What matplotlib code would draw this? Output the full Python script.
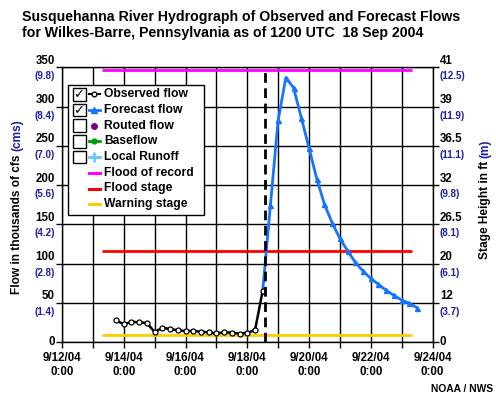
import matplotlib
matplotlib.use("Agg")
import matplotlib.pyplot as plt
import matplotlib.dates as mdates
from matplotlib.transforms import Affine2D, offset_copy
from matplotlib.patches import Rectangle
from matplotlib.lines import Line2D
import pandas as pd

plt.rcParams['font.family'] = ['Liberation Sans', 'DejaVu Sans']
plt.rcParams['font.weight'] = 'bold'

# ---------------- data ----------------
obs_times = ["2004-09-13 18:00", "2004-09-14 00:00", "2004-09-14 06:00", "2004-09-14 12:00",
             "2004-09-14 18:00", "2004-09-15 00:00", "2004-09-15 06:00", "2004-09-15 12:00",
             "2004-09-15 18:00", "2004-09-16 00:00", "2004-09-16 06:00", "2004-09-16 12:00",
             "2004-09-16 18:00", "2004-09-17 00:00", "2004-09-17 06:00", "2004-09-17 12:00",
             "2004-09-17 18:00", "2004-09-18 00:00", "2004-09-18 06:00", "2004-09-18 12:00"]
obs_flow = [27.6, 22.5, 25.8, 25.0, 24.2, 12.7, 18.2, 16.5, 14.9, 14.0,
            14.0, 13.1, 12.3, 11.0, 12.3, 11.9, 10.6, 11.9, 14.9, 65.3]

fc_times = ["2004-09-18 12:00", "2004-09-18 18:00", "2004-09-19 00:00", "2004-09-19 06:00",
            "2004-09-19 12:00", "2004-09-19 18:00", "2004-09-20 00:00", "2004-09-20 06:00",
            "2004-09-20 12:00", "2004-09-20 18:00", "2004-09-21 00:00", "2004-09-21 06:00",
            "2004-09-21 12:00", "2004-09-21 18:00", "2004-09-22 00:00", "2004-09-22 06:00",
            "2004-09-22 12:00", "2004-09-22 18:00", "2004-09-23 00:00", "2004-09-23 06:00",
            "2004-09-23 12:00"]
fc_flow = [65.3, 174.3, 282.4, 336.8, 324.0, 285.9, 247.2, 208.3, 175.5, 151.8, 131.9,
           116.2, 101.4, 90.3, 81.0, 73.4, 65.8, 59.4, 53.4, 49.2, 43.6]

flood_of_record = 347.0
flood_stage = 116.0
warning_stage = 9.3
level_span = ["2004-09-13 07:00", "2004-09-23 08:00"]
issue_time = "2004-09-18 13:30"

flow_ticks = [0, 50, 100, 150, 200, 250, 300, 350]
flow_cms = ["", "(1.4)", "(2.8)", "(4.2)", "(5.6)", "(7.0)", "(8.4)", "(9.8)"]
stage_ft = ["0", "12", "20", "26.5", "32", "36.5", "39", "41"]
stage_m = ["", "(3.7)", "(6.1)", "(8.1)", "(9.8)", "(11.1)", "(11.9)", "(12.5)"]

legend_labels = ["Observed flow", "Forecast flow", "Routed flow", "Baseflow", "Local Runoff",
                 "Flood of record", "Flood stage", "Warning stage"]

x_range = ["2004-09-12 00:00", "2004-09-24 00:00"]

# ---------------- colours ----------------
BLUE_TXT = '#1c1ca8'
C_OBS = 'black'
C_FC = '#1874ff'
C_ROUTED = '#800080'
C_BASE = '#00a000'
C_LOCAL = '#6cc6ff'
C_REC = '#ff00ff'
C_FLOOD = '#ff0000'
C_WARN = '#ffcc00'

W, H = 496, 397
fig = plt.figure(figsize=(W / 100, H / 100), dpi=100)
pix = Affine2D().scale(1 / W, -1 / H).translate(0, 1) + fig.transFigure

L, R, T, B = 62, 432.5, 67.3, 342
ax = fig.add_axes([L / W, 1 - B / H, (R - L) / W, (B - T) / H])

ot = pd.to_datetime(obs_times)
ft = pd.to_datetime(fc_times)
ls = pd.to_datetime(level_span)

ax.hlines([flood_of_record], ls[0], ls[1], colors=C_REC, lw=2, zorder=3)
ax.hlines([flood_stage], ls[0], ls[1], colors=C_FLOOD, lw=2, zorder=3)
ax.hlines([warning_stage], ls[0], ls[1], colors=C_WARN, lw=2, zorder=3)

ax.plot(ft, fc_flow, color=C_FC, lw=2, marker='^', ms=3.6, mfc=C_FC, mec=C_FC, zorder=4)
ax.plot(ot, obs_flow, color=C_OBS, lw=1.8, marker='o', ms=3.6, mfc='white', mec='black',
        mew=0.9, zorder=5)
ax.axvline(pd.Timestamp(issue_time), color='black', lw=2, ls=(0, (3.5, 2)), zorder=6)

xr = pd.to_datetime(x_range)
ax.set_xlim(xr[0], xr[1])
ax.set_ylim(flow_ticks[0], flow_ticks[-1])
ax.set_yticks(flow_ticks)
ax.set_yticklabels([])
ax.xaxis.set_major_locator(mdates.DayLocator())


def fmt(x, pos):
    d = mdates.num2date(x)
    if d.day % 2 == 0:
        return f"{d.month}/{d.day}/{d.strftime('%y')}\n{d.hour}:00"
    return ""


ax.xaxis.set_major_formatter(plt.FuncFormatter(fmt))
ax.tick_params(axis='x', length=4, width=1, pad=3, labelsize=8.3, direction='out')
ax.tick_params(axis='y', length=4, width=1, direction='out', right=True)
plt.setp(ax.get_xticklabels(), fontweight='bold', linespacing=1.25)
ax.grid(True, color='black', lw=1)
for s in ax.spines.values():
    s.set_linewidth(1)
    s.set_color('black')

ytr = ax.get_yaxis_transform()
for v, c, sft, sm in zip(flow_ticks, flow_cms, stage_ft, stage_m):
    if c:
        ax.text(-0.019, v, str(v), transform=offset_copy(ytr, fig=fig, x=0, y=6.5, units='dots'),
                ha='right', va='center', fontsize=8.3, fontweight='bold', color='black')
        ax.text(-0.019, v, c, transform=offset_copy(ytr, fig=fig, x=0, y=-9, units='dots'),
                ha='right', va='center', fontsize=7, fontweight='bold', color=BLUE_TXT)
        ax.text(1.02, v, sft, transform=offset_copy(ytr, fig=fig, x=0, y=6.5, units='dots'),
                ha='left', va='center', fontsize=8.3, fontweight='bold', color='black')
        ax.text(1.02, v, sm, transform=offset_copy(ytr, fig=fig, x=0, y=-9, units='dots'),
                ha='left', va='center', fontsize=7, fontweight='bold', color=BLUE_TXT)
    else:
        ax.text(-0.019, v, str(v), transform=ytr, ha='right', va='center', fontsize=8.3,
                fontweight='bold', color='black')
        ax.text(1.02, v, sft, transform=ytr, ha='left', va='center', fontsize=8.3,
                fontweight='bold', color='black')

# title
fig.text(22, 21, "Susquehanna River Hydrograph of Observed and Forecast Flows", transform=pix,
         ha='left', va='baseline', fontsize=10.2, fontweight='bold')
fig.text(22, 36.5, "for Wilkes-Barre, Pennsylvania as of 1200 UTC  18 Sep 2004", transform=pix,
         ha='left', va='baseline', fontsize=10.2, fontweight='bold')

# two-colour axis labels
renderer = fig.canvas.get_renderer()


def two_color_vlabel(x, ybottom, part1, part2, size):
    t1 = fig.text(x, ybottom, part1 + " ", transform=pix, rotation=90, ha='center', va='bottom',
                  fontsize=size, fontweight='bold', color='black')
    bb = t1.get_window_extent(renderer)
    ytop_px = H - bb.y1
    fig.text(x, ytop_px, part2, transform=pix, rotation=90, ha='center', va='bottom',
             fontsize=size, fontweight='bold', color=BLUE_TXT)


two_color_vlabel(17, 294, "Flow in thousands of cfs", "(cms)", 8.6)
two_color_vlabel(485, 259, "Stage Height in ft", "(m)", 8.6)

fig.text(493, 389, "NOAA / NWS", transform=pix, ha='right', va='center', fontsize=7.4,
         fontweight='bold')

# legend (drawn manually to mimic check boxes)
fig.add_artist(Rectangle((68, 85), 136, 130, transform=pix, fc='white', ec='black', lw=1,
                         zorder=10))
row0, dy = 94.3, 15.7
styles = [
    dict(color=C_OBS, lw=1.5, marker='o', ms=3.4, mfc='white', mec='black'),
    dict(color=C_FC, lw=2, marker='^', ms=4, mfc=C_FC, mec=C_FC),
    dict(color=C_ROUTED, lw=0, marker='o', ms=4, mfc=C_ROUTED, mec=C_ROUTED),
    dict(color=C_BASE, lw=2, marker='o', ms=3.5, mfc=C_BASE, mec=C_BASE),
    dict(color=C_LOCAL, lw=2, marker='+', ms=7, mew=2, mec=C_LOCAL),
    dict(color=C_REC, lw=2.2),
    dict(color=C_FLOOD, lw=2.2),
    dict(color=C_WARN, lw=2.2),
]
checked = [True, True, False, False, False]
for i, (lab, st) in enumerate(zip(legend_labels, styles)):
    yc = row0 + i * dy
    if i < len(checked):
        fig.add_artist(Rectangle((72.5, yc - 6.3), 13, 12.6, transform=pix, fc='white',
                                 ec='black', lw=1, zorder=11))
        if checked[i]:
            fig.text(79, yc + 0.8, "\u2713", transform=pix, ha='center', va='center',
                     fontsize=9.5, family='DejaVu Sans', fontweight='normal', zorder=12)
    marker = st.pop('marker', None)
    ms = st.pop('ms', 4)
    mfc = st.pop('mfc', st['color'])
    mec = st.pop('mec', st['color'])
    mew = st.pop('mew', 1)
    fig.add_artist(Line2D([88.5, 100], [yc, yc], transform=pix, zorder=11, **st))
    if marker:
        fig.add_artist(Line2D([94.2], [yc], transform=pix, zorder=12, lw=0, marker=marker,
                              ms=ms, mfc=mfc, mec=mec, mew=mew))
    fig.text(104, yc, lab, transform=pix, ha='left', va='center', fontsize=8.7,
             fontweight='bold', zorder=12)

fig.savefig("out.png", dpi=100)
